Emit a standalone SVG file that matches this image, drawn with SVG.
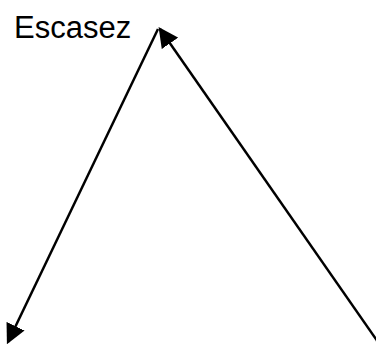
<svg xmlns="http://www.w3.org/2000/svg" width="376" height="344" viewBox="0 0 376 344">
  <style>
    .label { font-family: "Liberation Sans", Arial, sans-serif; font-size: 31px; fill: #000; }
    .edge { stroke: #000; stroke-width: 2.5; fill: none; }
  </style>
  <defs>
    <marker id="arrow" markerWidth="8" markerHeight="8" refX="7" refY="4" orient="auto" markerUnits="strokeWidth">
      <path d="M0,0 L8,4 L0,8 z" fill="#000"/>
    </marker>
  </defs>
  <rect width="376" height="344" fill="#fff"/>
  <g id="escasez">
    <text class="label" x="14" y="38">Escasez</text>
  </g>
  <g id="connectors">
    <line class="edge" x1="158" y1="29" x2="8" y2="342" marker-end="url(#arrow)"/>
    <line class="edge" x1="378" y1="342" x2="160" y2="29" marker-end="url(#arrow)"/>
  </g>
</svg>
